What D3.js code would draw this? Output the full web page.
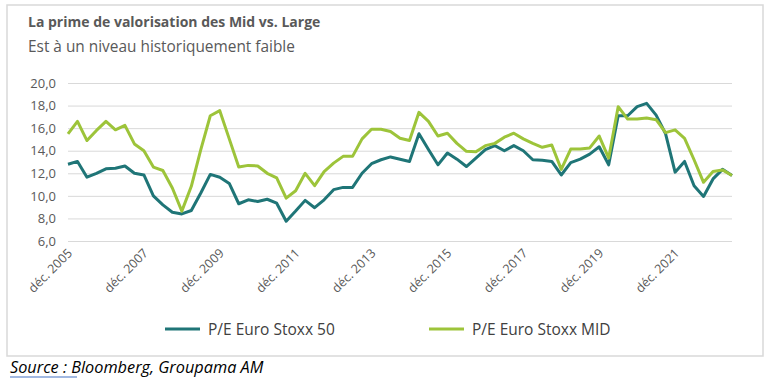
<!DOCTYPE html>
<html>
<head>
<meta charset="utf-8">
<script src="https://cdn.jsdelivr.net/npm/d3@7"></script>
<style>
  body { margin: 0; background: #fff; }
  svg text { font-family: "Open Sans", "Liberation Sans", sans-serif; }
</style>
</head>
<body>
<div id="chart"></div>
<script>
// quarterly points, dec. 2005 -> june 2023
var tickLabels = ["déc. 2005", "déc. 2007", "déc. 2009", "déc. 2011", "déc. 2013",
                  "déc. 2015", "déc. 2017", "déc. 2019", "déc. 2021"];
var yTicks = [6, 8, 10, 12, 14, 16, 18, 20];

var stoxx50 = [12.8, 13.05, 11.65, 12.0, 12.4, 12.45, 12.65, 12.0, 11.85, 10.0,
               9.2, 8.55, 8.4, 8.7, 10.25, 11.9, 11.65, 11.1, 9.3, 9.65,
               9.5, 9.7, 9.35, 7.75, 8.65, 9.6, 8.95, 9.65, 10.55, 10.75,
               10.75, 12.0, 12.85, 13.2, 13.45, 13.25, 13.05, 15.5, 14.1, 12.75,
               13.8, 13.25, 12.6, 13.35, 14.1, 14.45, 14.0, 14.45, 14.0, 13.2,
               13.15, 13.05, 11.85, 12.95, 13.25, 13.7, 14.35, 12.75, 17.1, 17.1,
               17.9, 18.2, 17.15, 15.5, 12.1, 13.05, 10.9, 9.95, 11.5, 12.35,
               11.8];
var stoxxMid = [15.5, 16.6, 14.9, 15.8, 16.6, 15.85, 16.25, 14.6, 14.0, 12.55,
                12.25, 10.7, 8.65, 10.85, 14.1, 17.1, 17.55, 15.05, 12.55, 12.7,
                12.65, 12.0, 11.6, 9.8, 10.45, 12.0, 10.9, 12.15, 12.9, 13.5,
                13.5, 15.05, 15.9, 15.9, 15.7, 15.1, 14.9, 17.4, 16.6, 15.3,
                15.55, 14.65, 13.95, 13.9, 14.45, 14.65, 15.2, 15.55, 15.05, 14.65,
                14.3, 14.5, 12.35, 14.15, 14.15, 14.25, 15.3, 13.35, 17.9, 16.8,
                16.8, 16.9, 16.75, 15.6, 15.85, 15.1, 13.2, 11.2, 12.15, 12.3,
                11.8];
var seriesNames = ["P/E Euro Stoxx 50", "P/E Euro Stoxx MID"];
var seriesColors = ["#1f7577", "#9dc43a"];

var W = 774, H = 383;
var margin = {top: 83, right: 42, bottom: 142, left: 68};
var width = W - margin.left - margin.right;
var height = H - margin.top - margin.bottom;

var svg = d3.select("#chart").append("svg")
    .attr("width", W)
    .attr("height", H);

// frame
svg.append("rect")
    .attr("x", 7).attr("y", 5)
    .attr("width", 756).attr("height", 351)
    .attr("fill", "none")
    .attr("stroke", "#d9d9d9")
    .attr("stroke-width", 1.5);

// titles
svg.append("text")
    .attr("x", 28).attr("y", 27)
    .attr("font-size", 14)
    .attr("font-weight", "bold")
    .attr("fill", "#595959")
    .text("La prime de valorisation des Mid vs. Large");

svg.append("text")
    .attr("x", 28).attr("y", 52)
    .attr("font-size", 15.4)
    .attr("fill", "#595959")
    .text("Est à un niveau historiquement faible");

var g = svg.append("g")
    .attr("transform", "translate(" + margin.left + "," + margin.top + ")");

var idx = d3.range(stoxx50.length);
var x = d3.scalePoint().domain(idx).range([0, width]);
var y = d3.scaleLinear().domain([6, 20]).range([height, 0]);

// grid + y labels
var yAxis = g.append("g")
    .call(d3.axisLeft(y).tickValues(yTicks).tickSize(-width).tickPadding(12)
        .tickFormat(function(d) { return d3.format(".1f")(d).replace(".", ","); }));
yAxis.select(".domain").remove();
yAxis.selectAll(".tick line").attr("stroke", "#d9d9d9").attr("stroke-width", 1);
yAxis.selectAll(".tick text")
    .attr("fill", "#595959")
    .attr("font-size", 13);

// x labels, one every 8 quarters
var xAxis = g.append("g")
    .attr("transform", "translate(0," + height + ")");
xAxis.selectAll("text")
    .data(tickLabels)
    .enter()
    .append("text")
    .attr("transform", function(d, i) {
        return "translate(" + (x(i * 8) + 5) + ",13) rotate(-45)";
    })
    .attr("text-anchor", "end")
    .attr("font-size", 12.5)
    .attr("fill", "#595959")
    .text(function(d) { return d; });

// lines
var line = d3.line()
    .x(function(d, i) { return x(i); })
    .y(function(d) { return y(d); });

[stoxx50, stoxxMid].forEach(function(s, k) {
    g.append("path")
        .datum(s)
        .attr("fill", "none")
        .attr("stroke", seriesColors[k])
        .attr("stroke-width", 3)
        .attr("stroke-linejoin", "round")
        .attr("d", line);
});

// legend
var legendX = [165, 429];
seriesNames.forEach(function(name, k) {
    svg.append("line")
        .attr("x1", legendX[k]).attr("x2", legendX[k] + 35)
        .attr("y1", 329).attr("y2", 329)
        .attr("stroke", seriesColors[k])
        .attr("stroke-width", 3);
    svg.append("text")
        .attr("x", legendX[k] + 43).attr("y", 334.5)
        .attr("font-size", 15.5)
        .attr("fill", "#404040")
        .text(name);
});

// source
var src = svg.append("text")
    .attr("x", 10).attr("y", 373)
    .attr("font-size", 16.3)
    .attr("font-style", "italic")
    .attr("fill", "#000");
src.append("tspan").text("Source :");
src.append("tspan").text(" Bloomberg, Groupama AM");
svg.append("line")
    .attr("x1", 10).attr("x2", 77)
    .attr("y1", 377).attr("y2", 377)
    .attr("stroke", "#4472c4")
    .attr("stroke-width", 1.2);
</script>
</body>
</html>
